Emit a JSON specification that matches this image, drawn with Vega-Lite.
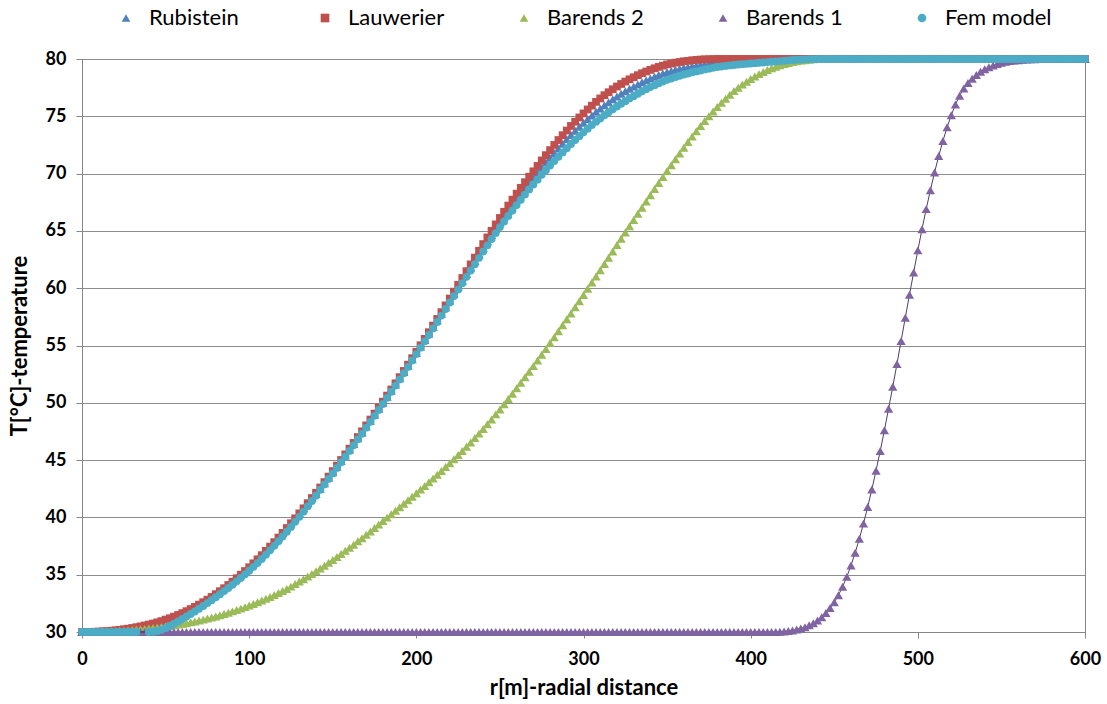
{
"$schema":"https://vega.github.io/schema/vega-lite/v6.json",
"width":1003,"height":573,
"autosize":{"type":"none"},
"padding":{"left":82,"top":59,"right":22,"bottom":72},
"background":"white",
"config":{
"font":"Lato",
"view":{"stroke":"#868686","strokeWidth":1},
"axis":{"labelFont":"Lato","labelFontWeight":"bold","labelFontSize":18,"labelColor":"#000000","titleFont":"Lato","titleFontWeight":"bold","titleFontSize":22,"titleColor":"#000000","domainColor":"#868686","tickColor":"#868686","gridColor":"#8c8c8c","tickSize":6},
"axisY":{"grid":true,"tickCount":10,"labelPadding":10,"titlePadding":14}
},
"data":{"values":[
{"r":0,"Rub":30,"Lau":30,"B2":30,"B1":30,"Fem":30},
{"r":2.5,"Rub":30,"Lau":30,"B2":30,"B1":30,"Fem":30},
{"r":5,"Rub":30.01,"Lau":30.01,"B2":30.01,"B1":30,"Fem":30},
{"r":7.5,"Rub":30.02,"Lau":30.02,"B2":30.01,"B1":30,"Fem":30},
{"r":10,"Rub":30.04,"Lau":30.04,"B2":30.02,"B1":30,"Fem":30},
{"r":12.5,"Rub":30.06,"Lau":30.06,"B2":30.03,"B1":30,"Fem":30},
{"r":15,"Rub":30.08,"Lau":30.08,"B2":30.05,"B1":30,"Fem":30},
{"r":17.5,"Rub":30.11,"Lau":30.11,"B2":30.06,"B1":30,"Fem":30},
{"r":20,"Rub":30.15,"Lau":30.15,"B2":30.08,"B1":30,"Fem":30},
{"r":22.5,"Rub":30.19,"Lau":30.19,"B2":30.1,"B1":30,"Fem":30},
{"r":25,"Rub":30.24,"Lau":30.24,"B2":30.12,"B1":30,"Fem":30},
{"r":27.5,"Rub":30.29,"Lau":30.29,"B2":30.15,"B1":30,"Fem":30},
{"r":30,"Rub":30.35,"Lau":30.35,"B2":30.18,"B1":30,"Fem":30},
{"r":32.5,"Rub":30.42,"Lau":30.42,"B2":30.21,"B1":30,"Fem":30},
{"r":35,"Rub":30.49,"Lau":30.49,"B2":30.24,"B1":30,"Fem":null},
{"r":37.5,"Rub":30.57,"Lau":30.57,"B2":30.27,"B1":30,"Fem":null},
{"r":40,"Rub":30.65,"Lau":30.65,"B2":30.31,"B1":30,"Fem":30},
{"r":42.5,"Rub":30.74,"Lau":30.74,"B2":30.35,"B1":30,"Fem":30.02},
{"r":45,"Rub":30.84,"Lau":30.84,"B2":30.39,"B1":30,"Fem":30.09},
{"r":47.5,"Rub":30.95,"Lau":30.95,"B2":30.44,"B1":30,"Fem":30.2},
{"r":50,"Rub":31.08,"Lau":31.08,"B2":30.49,"B1":30,"Fem":30.35},
{"r":52.5,"Rub":31.2,"Lau":31.2,"B2":30.54,"B1":30,"Fem":30.53},
{"r":55,"Rub":31.34,"Lau":31.34,"B2":30.59,"B1":30,"Fem":30.72},
{"r":57.5,"Rub":31.49,"Lau":31.49,"B2":30.65,"B1":30,"Fem":30.92},
{"r":60,"Rub":31.65,"Lau":31.65,"B2":30.71,"B1":30,"Fem":31.13},
{"r":62.5,"Rub":31.82,"Lau":31.82,"B2":30.77,"B1":30,"Fem":31.35},
{"r":65,"Rub":32,"Lau":32,"B2":30.85,"B1":30,"Fem":31.57},
{"r":67.5,"Rub":32.19,"Lau":32.19,"B2":30.92,"B1":30,"Fem":31.79},
{"r":70,"Rub":32.39,"Lau":32.39,"B2":31,"B1":30,"Fem":32.03},
{"r":72.5,"Rub":32.6,"Lau":32.6,"B2":31.08,"B1":30,"Fem":32.27},
{"r":75,"Rub":32.82,"Lau":32.82,"B2":31.17,"B1":30,"Fem":32.52},
{"r":77.5,"Rub":33.06,"Lau":33.06,"B2":31.26,"B1":30,"Fem":32.77},
{"r":80,"Rub":33.3,"Lau":33.3,"B2":31.36,"B1":30,"Fem":33.03},
{"r":82.5,"Rub":33.56,"Lau":33.56,"B2":31.46,"B1":30,"Fem":33.3},
{"r":85,"Rub":33.82,"Lau":33.82,"B2":31.57,"B1":30,"Fem":33.57},
{"r":87.5,"Rub":34.1,"Lau":34.1,"B2":31.68,"B1":30,"Fem":33.84},
{"r":90,"Rub":34.39,"Lau":34.39,"B2":31.8,"B1":30,"Fem":34.13},
{"r":92.5,"Rub":34.69,"Lau":34.69,"B2":31.92,"B1":30,"Fem":34.42},
{"r":95,"Rub":35,"Lau":35,"B2":32.04,"B1":30,"Fem":34.72},
{"r":97.5,"Rub":35.32,"Lau":35.32,"B2":32.17,"B1":30,"Fem":35.03},
{"r":100,"Rub":35.65,"Lau":35.65,"B2":32.31,"B1":30,"Fem":35.35},
{"r":102.5,"Rub":35.99,"Lau":35.99,"B2":32.45,"B1":30,"Fem":35.68},
{"r":105,"Rub":36.34,"Lau":36.34,"B2":32.6,"B1":30,"Fem":36.02},
{"r":107.5,"Rub":36.7,"Lau":36.7,"B2":32.75,"B1":30,"Fem":36.38},
{"r":110,"Rub":37.08,"Lau":37.08,"B2":32.9,"B1":30,"Fem":36.75},
{"r":112.5,"Rub":37.45,"Lau":37.45,"B2":33.06,"B1":30,"Fem":37.13},
{"r":115,"Rub":37.84,"Lau":37.84,"B2":33.23,"B1":30,"Fem":37.52},
{"r":117.5,"Rub":38.24,"Lau":38.24,"B2":33.41,"B1":30,"Fem":37.92},
{"r":120,"Rub":38.65,"Lau":38.65,"B2":33.58,"B1":30,"Fem":38.33},
{"r":122.5,"Rub":39.07,"Lau":39.07,"B2":33.76,"B1":30,"Fem":38.75},
{"r":125,"Rub":39.49,"Lau":39.49,"B2":33.96,"B1":30,"Fem":39.17},
{"r":127.5,"Rub":39.92,"Lau":39.92,"B2":34.19,"B1":30,"Fem":39.61},
{"r":130,"Rub":40.35,"Lau":40.35,"B2":34.4,"B1":30,"Fem":40.05},
{"r":132.5,"Rub":40.79,"Lau":40.79,"B2":34.61,"B1":30,"Fem":40.5},
{"r":135,"Rub":41.24,"Lau":41.24,"B2":34.84,"B1":30,"Fem":40.96},
{"r":137.5,"Rub":41.69,"Lau":41.69,"B2":35.07,"B1":30,"Fem":41.43},
{"r":140,"Rub":42.05,"Lau":42.15,"B2":35.3,"B1":30,"Fem":41.9},
{"r":142.5,"Rub":42.51,"Lau":42.61,"B2":35.54,"B1":30,"Fem":42.41},
{"r":145,"Rub":42.98,"Lau":43.08,"B2":35.79,"B1":30,"Fem":42.88},
{"r":147.5,"Rub":43.46,"Lau":43.56,"B2":36.04,"B1":30,"Fem":43.36},
{"r":150,"Rub":43.94,"Lau":44.04,"B2":36.29,"B1":30,"Fem":43.84},
{"r":152.5,"Rub":44.42,"Lau":44.52,"B2":36.54,"B1":30,"Fem":44.32},
{"r":155,"Rub":44.91,"Lau":45.01,"B2":36.81,"B1":30,"Fem":44.81},
{"r":157.5,"Rub":45.4,"Lau":45.5,"B2":37.08,"B1":30,"Fem":45.3},
{"r":160,"Rub":45.9,"Lau":46,"B2":37.35,"B1":30,"Fem":45.8},
{"r":162.5,"Rub":46.4,"Lau":46.5,"B2":37.62,"B1":30,"Fem":46.3},
{"r":165,"Rub":46.91,"Lau":47.01,"B2":37.91,"B1":30,"Fem":46.81},
{"r":167.5,"Rub":47.41,"Lau":47.51,"B2":38.19,"B1":30,"Fem":47.31},
{"r":170,"Rub":47.93,"Lau":48.03,"B2":38.48,"B1":30,"Fem":47.83},
{"r":172.5,"Rub":48.44,"Lau":48.54,"B2":38.77,"B1":30,"Fem":48.34},
{"r":175,"Rub":48.96,"Lau":49.06,"B2":39.08,"B1":30,"Fem":48.86},
{"r":177.5,"Rub":49.48,"Lau":49.58,"B2":39.38,"B1":30,"Fem":49.38},
{"r":180,"Rub":50,"Lau":50.1,"B2":39.68,"B1":30,"Fem":49.9},
{"r":182.5,"Rub":50.53,"Lau":50.63,"B2":39.98,"B1":30,"Fem":50.43},
{"r":185,"Rub":51.06,"Lau":51.16,"B2":40.28,"B1":30,"Fem":50.96},
{"r":187.5,"Rub":51.6,"Lau":51.7,"B2":40.58,"B1":30,"Fem":51.5},
{"r":190,"Rub":52.14,"Lau":52.24,"B2":40.89,"B1":30,"Fem":52.04},
{"r":192.5,"Rub":52.68,"Lau":52.78,"B2":41.19,"B1":30,"Fem":52.58},
{"r":195,"Rub":53.23,"Lau":53.33,"B2":41.5,"B1":30,"Fem":53.13},
{"r":197.5,"Rub":53.79,"Lau":53.89,"B2":41.8,"B1":30,"Fem":53.69},
{"r":200,"Rub":54.35,"Lau":54.45,"B2":42.11,"B1":30,"Fem":54.25},
{"r":202.5,"Rub":54.92,"Lau":55.02,"B2":42.43,"B1":30,"Fem":54.81},
{"r":205,"Rub":55.47,"Lau":55.58,"B2":42.75,"B1":30,"Fem":55.36},
{"r":207.5,"Rub":56.04,"Lau":56.16,"B2":43.06,"B1":30,"Fem":55.92},
{"r":210,"Rub":56.62,"Lau":56.74,"B2":43.4,"B1":30,"Fem":56.49},
{"r":212.5,"Rub":57.19,"Lau":57.32,"B2":43.72,"B1":30,"Fem":57.05},
{"r":215,"Rub":57.76,"Lau":57.91,"B2":44.05,"B1":30,"Fem":57.61},
{"r":217.5,"Rub":58.34,"Lau":58.5,"B2":44.39,"B1":30,"Fem":58.18},
{"r":220,"Rub":58.93,"Lau":59.1,"B2":44.73,"B1":30,"Fem":58.75},
{"r":222.5,"Rub":59.51,"Lau":59.7,"B2":45.07,"B1":30,"Fem":59.31},
{"r":225,"Rub":60.09,"Lau":60.3,"B2":45.44,"B1":30,"Fem":59.88},
{"r":227.5,"Rub":60.66,"Lau":60.89,"B2":45.8,"B1":30,"Fem":60.43},
{"r":230,"Rub":61.24,"Lau":61.49,"B2":46.17,"B1":30,"Fem":60.99},
{"r":232.5,"Rub":61.81,"Lau":62.08,"B2":46.54,"B1":30,"Fem":61.54},
{"r":235,"Rub":62.38,"Lau":62.67,"B2":46.93,"B1":30,"Fem":62.09},
{"r":237.5,"Rub":62.96,"Lau":63.26,"B2":47.31,"B1":30,"Fem":62.65},
{"r":240,"Rub":63.53,"Lau":63.85,"B2":47.71,"B1":30,"Fem":63.2},
{"r":242.5,"Rub":64.09,"Lau":64.43,"B2":48.13,"B1":30,"Fem":63.74},
{"r":245,"Rub":64.65,"Lau":65.01,"B2":48.55,"B1":30,"Fem":64.29},
{"r":247.5,"Rub":65.19,"Lau":65.57,"B2":48.99,"B1":30,"Fem":64.81},
{"r":250,"Rub":65.73,"Lau":66.13,"B2":49.42,"B1":30,"Fem":65.33},
{"r":252.5,"Rub":66.25,"Lau":66.67,"B2":49.87,"B1":30,"Fem":65.82},
{"r":255,"Rub":66.76,"Lau":67.21,"B2":50.33,"B1":30,"Fem":66.31},
{"r":257.5,"Rub":67.26,"Lau":67.73,"B2":50.79,"B1":30,"Fem":66.78},
{"r":260,"Rub":67.75,"Lau":68.25,"B2":51.26,"B1":30,"Fem":67.25},
{"r":262.5,"Rub":68.24,"Lau":68.76,"B2":51.74,"B1":30,"Fem":67.72},
{"r":265,"Rub":68.71,"Lau":69.25,"B2":52.22,"B1":30,"Fem":68.17},
{"r":267.5,"Rub":69.18,"Lau":69.73,"B2":52.71,"B1":30,"Fem":68.62},
{"r":270,"Rub":69.63,"Lau":70.2,"B2":53.2,"B1":30,"Fem":69.05},
{"r":272.5,"Rub":70.07,"Lau":70.67,"B2":53.69,"B1":30,"Fem":69.47},
{"r":275,"Rub":70.53,"Lau":71.15,"B2":54.19,"B1":30,"Fem":69.9},
{"r":277.5,"Rub":70.96,"Lau":71.61,"B2":54.7,"B1":30,"Fem":70.3},
{"r":280,"Rub":71.38,"Lau":72.05,"B2":55.21,"B1":30,"Fem":70.7},
{"r":282.5,"Rub":71.8,"Lau":72.5,"B2":55.73,"B1":30,"Fem":71.1},
{"r":285,"Rub":72.2,"Lau":72.93,"B2":56.24,"B1":30,"Fem":71.47},
{"r":287.5,"Rub":72.6,"Lau":73.35,"B2":56.76,"B1":30,"Fem":71.85},
{"r":290,"Rub":72.99,"Lau":73.76,"B2":57.29,"B1":30,"Fem":72.21},
{"r":292.5,"Rub":73.37,"Lau":74.16,"B2":57.8,"B1":30,"Fem":72.58},
{"r":295,"Rub":73.73,"Lau":74.53,"B2":58.34,"B1":30,"Fem":72.93},
{"r":297.5,"Rub":74.09,"Lau":74.9,"B2":58.87,"B1":30,"Fem":73.27},
{"r":300,"Rub":74.43,"Lau":75.25,"B2":59.41,"B1":30,"Fem":73.6},
{"r":302.5,"Rub":74.76,"Lau":75.6,"B2":59.95,"B1":30,"Fem":73.92},
{"r":305,"Rub":75.08,"Lau":75.93,"B2":60.49,"B1":30,"Fem":74.23},
{"r":307.5,"Rub":75.4,"Lau":76.26,"B2":61.03,"B1":30,"Fem":74.53},
{"r":310,"Rub":75.69,"Lau":76.56,"B2":61.57,"B1":30,"Fem":74.81},
{"r":312.5,"Rub":75.97,"Lau":76.84,"B2":62.12,"B1":30,"Fem":75.09},
{"r":315,"Rub":76.23,"Lau":77.1,"B2":62.66,"B1":30,"Fem":75.35},
{"r":317.5,"Rub":76.49,"Lau":77.36,"B2":63.21,"B1":30,"Fem":75.61},
{"r":320,"Rub":76.73,"Lau":77.6,"B2":63.76,"B1":30,"Fem":75.85},
{"r":322.5,"Rub":76.96,"Lau":77.82,"B2":64.31,"B1":30,"Fem":76.09},
{"r":325,"Rub":77.18,"Lau":78.03,"B2":64.86,"B1":30,"Fem":76.32},
{"r":327.5,"Rub":77.4,"Lau":78.23,"B2":65.41,"B1":30,"Fem":76.56},
{"r":330,"Rub":77.59,"Lau":78.41,"B2":65.95,"B1":30,"Fem":76.76},
{"r":332.5,"Rub":77.78,"Lau":78.59,"B2":66.49,"B1":30,"Fem":76.97},
{"r":335,"Rub":77.97,"Lau":78.76,"B2":67.03,"B1":30,"Fem":77.18},
{"r":337.5,"Rub":78.14,"Lau":78.91,"B2":67.57,"B1":30,"Fem":77.37},
{"r":340,"Rub":78.3,"Lau":79.05,"B2":68.11,"B1":30,"Fem":77.55},
{"r":342.5,"Rub":78.46,"Lau":79.19,"B2":68.65,"B1":30,"Fem":77.72},
{"r":345,"Rub":78.6,"Lau":79.31,"B2":69.18,"B1":30,"Fem":77.88},
{"r":347.5,"Rub":78.73,"Lau":79.42,"B2":69.7,"B1":30,"Fem":78.03},
{"r":350,"Rub":78.86,"Lau":79.53,"B2":70.22,"B1":30,"Fem":78.18},
{"r":352.5,"Rub":78.95,"Lau":79.6,"B2":70.73,"B1":30,"Fem":78.3},
{"r":355,"Rub":79.06,"Lau":79.68,"B2":71.25,"B1":30,"Fem":78.43},
{"r":357.5,"Rub":79.14,"Lau":79.74,"B2":71.76,"B1":30,"Fem":78.54},
{"r":360,"Rub":79.23,"Lau":79.8,"B2":72.26,"B1":30,"Fem":78.65},
{"r":362.5,"Rub":79.29,"Lau":79.84,"B2":72.75,"B1":30,"Fem":78.74},
{"r":365,"Rub":79.37,"Lau":79.89,"B2":73.23,"B1":30,"Fem":78.84},
{"r":367.5,"Rub":79.42,"Lau":79.92,"B2":73.7,"B1":30,"Fem":78.92},
{"r":370,"Rub":79.48,"Lau":79.95,"B2":74.15,"B1":30,"Fem":79},
{"r":372.5,"Rub":79.53,"Lau":79.97,"B2":74.58,"B1":30,"Fem":79.09},
{"r":375,"Rub":79.57,"Lau":79.98,"B2":75.01,"B1":30,"Fem":79.16},
{"r":377.5,"Rub":79.61,"Lau":79.99,"B2":75.42,"B1":30,"Fem":79.23},
{"r":380,"Rub":79.65,"Lau":80,"B2":75.81,"B1":30,"Fem":79.3},
{"r":382.5,"Rub":79.68,"Lau":80,"B2":76.19,"B1":30,"Fem":79.35},
{"r":385,"Rub":79.7,"Lau":80,"B2":76.54,"B1":30,"Fem":79.4},
{"r":387.5,"Rub":79.72,"Lau":80,"B2":76.88,"B1":30,"Fem":79.44},
{"r":390,"Rub":79.74,"Lau":80,"B2":77.2,"B1":30,"Fem":79.48},
{"r":392.5,"Rub":79.76,"Lau":80,"B2":77.49,"B1":30,"Fem":79.52},
{"r":395,"Rub":79.78,"Lau":80,"B2":77.77,"B1":30,"Fem":79.55},
{"r":397.5,"Rub":79.79,"Lau":80,"B2":78.02,"B1":30,"Fem":79.58},
{"r":400,"Rub":79.81,"Lau":80,"B2":78.26,"B1":30,"Fem":79.61},
{"r":402.5,"Rub":79.82,"Lau":80,"B2":78.48,"B1":30,"Fem":79.64},
{"r":405,"Rub":79.84,"Lau":80,"B2":78.68,"B1":30,"Fem":79.67},
{"r":407.5,"Rub":79.85,"Lau":80,"B2":78.87,"B1":30,"Fem":79.7},
{"r":410,"Rub":79.87,"Lau":80,"B2":79.04,"B1":30,"Fem":79.73},
{"r":412.5,"Rub":79.88,"Lau":80,"B2":79.19,"B1":30,"Fem":79.76},
{"r":415,"Rub":79.9,"Lau":80,"B2":79.33,"B1":30.01,"Fem":79.79},
{"r":417.5,"Rub":79.91,"Lau":80,"B2":79.45,"B1":30.03,"Fem":79.82},
{"r":420,"Rub":79.93,"Lau":80,"B2":79.56,"B1":30.05,"Fem":79.85},
{"r":422.5,"Rub":79.94,"Lau":80,"B2":79.65,"B1":30.08,"Fem":79.88},
{"r":425,"Rub":79.96,"Lau":80,"B2":79.74,"B1":30.14,"Fem":79.91},
{"r":427.5,"Rub":79.97,"Lau":80,"B2":79.8,"B1":30.21,"Fem":79.93},
{"r":430,"Rub":79.98,"Lau":80,"B2":79.86,"B1":30.3,"Fem":79.95},
{"r":432.5,"Rub":79.99,"Lau":80,"B2":79.9,"B1":30.42,"Fem":79.97},
{"r":435,"Rub":79.99,"Lau":80,"B2":79.94,"B1":30.58,"Fem":79.98},
{"r":437.5,"Rub":80,"Lau":80,"B2":79.97,"B1":30.77,"Fem":79.99},
{"r":440,"Rub":80,"Lau":80,"B2":80,"B1":31,"Fem":80},
{"r":442.5,"Rub":80,"Lau":80,"B2":80,"B1":31.29,"Fem":80},
{"r":445,"Rub":80,"Lau":80,"B2":80,"B1":31.65,"Fem":80},
{"r":447.5,"Rub":80,"Lau":80,"B2":80,"B1":32.09,"Fem":80},
{"r":450,"Rub":80,"Lau":80,"B2":80,"B1":32.6,"Fem":80},
{"r":452.5,"Rub":80,"Lau":80,"B2":80,"B1":33.21,"Fem":80},
{"r":455,"Rub":80,"Lau":80,"B2":80,"B1":33.95,"Fem":80},
{"r":457.5,"Rub":80,"Lau":80,"B2":80,"B1":34.81,"Fem":80},
{"r":460,"Rub":80,"Lau":80,"B2":80,"B1":35.8,"Fem":80},
{"r":462.5,"Rub":80,"Lau":80,"B2":80,"B1":36.91,"Fem":80},
{"r":465,"Rub":80,"Lau":80,"B2":80,"B1":38.13,"Fem":80},
{"r":467.5,"Rub":80,"Lau":80,"B2":80,"B1":39.46,"Fem":80},
{"r":470,"Rub":80,"Lau":80,"B2":80,"B1":40.9,"Fem":80},
{"r":472.5,"Rub":80,"Lau":80,"B2":80,"B1":42.44,"Fem":80},
{"r":475,"Rub":80,"Lau":80,"B2":80,"B1":44.08,"Fem":80},
{"r":477.5,"Rub":80,"Lau":80,"B2":80,"B1":45.79,"Fem":80},
{"r":480,"Rub":80,"Lau":80,"B2":80,"B1":47.6,"Fem":80},
{"r":482.5,"Rub":80,"Lau":80,"B2":80,"B1":49.48,"Fem":80},
{"r":485,"Rub":80,"Lau":80,"B2":80,"B1":51.4,"Fem":80},
{"r":487.5,"Rub":80,"Lau":80,"B2":80,"B1":53.38,"Fem":80},
{"r":490,"Rub":80,"Lau":80,"B2":80,"B1":55.4,"Fem":80},
{"r":492.5,"Rub":80,"Lau":80,"B2":80,"B1":57.43,"Fem":80},
{"r":495,"Rub":80,"Lau":80,"B2":80,"B1":59.43,"Fem":80},
{"r":497.5,"Rub":80,"Lau":80,"B2":80,"B1":61.38,"Fem":80},
{"r":500,"Rub":80,"Lau":80,"B2":80,"B1":63.3,"Fem":80},
{"r":502.5,"Rub":80,"Lau":80,"B2":80,"B1":65.15,"Fem":80},
{"r":505,"Rub":80,"Lau":80,"B2":80,"B1":66.9,"Fem":80},
{"r":507.5,"Rub":80,"Lau":80,"B2":80,"B1":68.55,"Fem":80},
{"r":510,"Rub":80,"Lau":80,"B2":80,"B1":70.1,"Fem":80},
{"r":512.5,"Rub":80,"Lau":80,"B2":80,"B1":71.54,"Fem":80},
{"r":515,"Rub":80,"Lau":80,"B2":80,"B1":72.85,"Fem":80},
{"r":517.5,"Rub":80,"Lau":80,"B2":80,"B1":74.04,"Fem":80},
{"r":520,"Rub":80,"Lau":80,"B2":80,"B1":75.1,"Fem":80},
{"r":522.5,"Rub":80,"Lau":80,"B2":80,"B1":76.03,"Fem":80},
{"r":525,"Rub":80,"Lau":80,"B2":80,"B1":76.8,"Fem":80},
{"r":527.5,"Rub":80,"Lau":80,"B2":80,"B1":77.43,"Fem":80},
{"r":530,"Rub":80,"Lau":80,"B2":80,"B1":77.9,"Fem":80},
{"r":532.5,"Rub":80,"Lau":80,"B2":80,"B1":78.28,"Fem":80},
{"r":535,"Rub":80,"Lau":80,"B2":80,"B1":78.6,"Fem":80},
{"r":537.5,"Rub":80,"Lau":80,"B2":80,"B1":78.88,"Fem":80},
{"r":540,"Rub":80,"Lau":80,"B2":80,"B1":79.1,"Fem":80},
{"r":542.5,"Rub":80,"Lau":80,"B2":80,"B1":79.29,"Fem":80},
{"r":545,"Rub":80,"Lau":80,"B2":80,"B1":79.44,"Fem":80},
{"r":547.5,"Rub":80,"Lau":80,"B2":80,"B1":79.57,"Fem":80},
{"r":550,"Rub":80,"Lau":80,"B2":80,"B1":79.68,"Fem":80},
{"r":552.5,"Rub":80,"Lau":80,"B2":80,"B1":79.76,"Fem":80},
{"r":555,"Rub":80,"Lau":80,"B2":80,"B1":79.82,"Fem":80},
{"r":557.5,"Rub":80,"Lau":80,"B2":80,"B1":79.87,"Fem":80},
{"r":560,"Rub":80,"Lau":80,"B2":80,"B1":79.9,"Fem":80},
{"r":562.5,"Rub":80,"Lau":80,"B2":80,"B1":79.93,"Fem":80},
{"r":565,"Rub":80,"Lau":80,"B2":80,"B1":79.95,"Fem":80},
{"r":567.5,"Rub":80,"Lau":80,"B2":80,"B1":79.97,"Fem":80},
{"r":570,"Rub":80,"Lau":80,"B2":80,"B1":79.98,"Fem":80},
{"r":572.5,"Rub":80,"Lau":80,"B2":80,"B1":79.99,"Fem":80},
{"r":575,"Rub":80,"Lau":80,"B2":80,"B1":80,"Fem":80},
{"r":577.5,"Rub":80,"Lau":80,"B2":80,"B1":80,"Fem":80},
{"r":580,"Rub":80,"Lau":80,"B2":80,"B1":80,"Fem":80},
{"r":582.5,"Rub":80,"Lau":80,"B2":80,"B1":80,"Fem":80},
{"r":585,"Rub":80,"Lau":80,"B2":80,"B1":80,"Fem":80},
{"r":587.5,"Rub":80,"Lau":80,"B2":80,"B1":80,"Fem":80},
{"r":590,"Rub":80,"Lau":80,"B2":80,"B1":80,"Fem":80},
{"r":592.5,"Rub":80,"Lau":80,"B2":80,"B1":80,"Fem":80},
{"r":595,"Rub":80,"Lau":80,"B2":80,"B1":80,"Fem":80},
{"r":597.5,"Rub":80,"Lau":80,"B2":80,"B1":80,"Fem":80},
{"r":600,"Rub":80,"Lau":80,"B2":80,"B1":80,"Fem":80}
]},
"encoding":{
"x":{"field":"r","type":"quantitative","scale":{"domain":[0,600],"nice":false},
"axis":{"title":"r[m]-radial distance","values":[0,100,200,300,400,500,600],"grid":false,"labelPadding":12,"titlePadding":9,"labelFlush":false}}
},
"layer":[
{"mark":{"type":"line","color":"#4A7EBB","strokeWidth":1},
"encoding":{"y":{"field":"Rub","type":"quantitative","scale":{"domain":[30,80],"nice":false},"axis":{"title":"T[°C]-temperature"}}}},
{"mark":{"type":"point","filled":true,"opacity":1,"size":85,"strokeWidth":0},
"encoding":{"y":{"field":"Rub","type":"quantitative","axis":{"title":"T[°C]-temperature"}},
"color":{"datum":"Rubistein","type":"nominal",
"scale":{"domain":["Rubistein","Lauwerier","Barends 2","Barends 1","Fem model"],"range":["#4F81BD","#C0504D","#9BBB59","#8064A2","#4BACC6"]},
"legend":{"title":null,"orient":"none","legendX":33,"legendY":-52,"direction":"horizontal","columns":5,"gridAlign":"all","columnPadding":58,"labelFont":"Lato","labelFontSize":22,"labelFontWeight":"normal","labelColor":"#000000","symbolSize":75,"labelOffset":12,"symbolStrokeWidth":0,"padding":0}},
"shape":{"datum":"Rubistein","type":"nominal",
"scale":{"domain":["Rubistein","Lauwerier","Barends 2","Barends 1","Fem model"],"range":["triangle-up","square","triangle-up","triangle-up","circle"]},
"legend":{"title":null}}}},
{"mark":{"type":"line","color":"#BE4B48","strokeWidth":1},
"encoding":{"y":{"field":"Lau","type":"quantitative","axis":{"title":"T[°C]-temperature"}}}},
{"mark":{"type":"point","filled":true,"opacity":1,"size":60,"strokeWidth":0},
"encoding":{"y":{"field":"Lau","type":"quantitative","axis":{"title":"T[°C]-temperature"}},
"color":{"datum":"Lauwerier","type":"nominal"},"shape":{"datum":"Lauwerier","type":"nominal"}}},
{"mark":{"type":"line","color":"#8FAE4E","strokeWidth":1},
"encoding":{"y":{"field":"B2","type":"quantitative","axis":{"title":"T[°C]-temperature"}}}},
{"mark":{"type":"point","filled":true,"opacity":1,"size":85,"strokeWidth":0},
"encoding":{"y":{"field":"B2","type":"quantitative","axis":{"title":"T[°C]-temperature"}},
"color":{"datum":"Barends 2","type":"nominal"},"shape":{"datum":"Barends 2","type":"nominal"}}},
{"mark":{"type":"line","color":"#4E3D66","strokeWidth":1},
"encoding":{"y":{"field":"B1","type":"quantitative","axis":{"title":"T[°C]-temperature"}}}},
{"mark":{"type":"point","filled":true,"opacity":1,"size":85,"strokeWidth":0},
"encoding":{"y":{"field":"B1","type":"quantitative","axis":{"title":"T[°C]-temperature"}},
"color":{"datum":"Barends 1","type":"nominal"},"shape":{"datum":"Barends 1","type":"nominal"}}},
{"transform":[{"filter":"isValid(datum.Fem)"}],
"mark":{"type":"line","color":"#333333","strokeWidth":1},
"encoding":{"y":{"field":"Fem","type":"quantitative","axis":{"title":"T[°C]-temperature"}}}},
{"mark":{"type":"point","filled":true,"opacity":1,"size":62,"strokeWidth":0},
"encoding":{"y":{"field":"Fem","type":"quantitative","axis":{"title":"T[°C]-temperature"}},
"color":{"datum":"Fem model","type":"nominal"},"shape":{"datum":"Fem model","type":"nominal"}}}
]
}
